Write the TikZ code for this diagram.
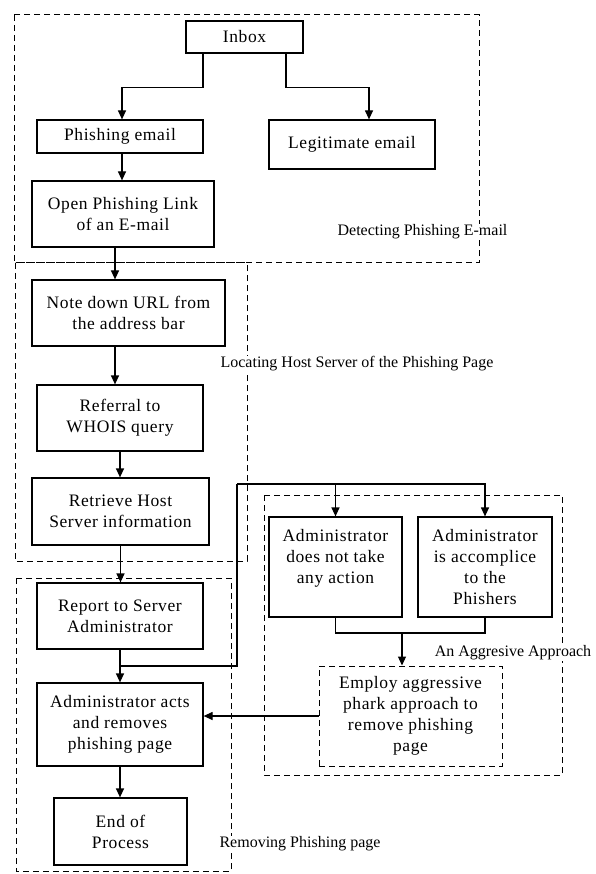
\documentclass[tikz,border=0pt]{standalone}
\usepackage{fontspec}
\setmainfont{Liberation Serif}
\newfontfamily\boxfont[LetterSpace=3.5]{Liberation Serif}
\usetikzlibrary{arrows.meta,calc}
\begin{document}
\begin{tikzpicture}[x=1pt,y=-1pt,
  box/.style={draw, line width=1.2pt, align=center, inner sep=0pt, font=\boxfont\fontsize{17.5}{21}\selectfont},
  dbox/.style={box, line width=1pt, dash pattern=on 6pt off 4pt},
  region/.style={draw, line width=1pt, dash pattern=on 6pt off 4pt},
  lbl/.style={fill=white, inner sep=1pt, font=\fontsize{16}{19}\selectfont},
  arr/.style={-{Triangle[length=9pt,width=8pt]}, line width=1.2pt},
  ln/.style={line width=1.2pt}]
\useasboundingbox (0,0) rectangle (596,874);
% regions
\draw[region] (14,15) rectangle (479,263);
\draw[region] (15,263) rectangle (247,561);
\draw[region] (16,578) rectangle (231,871);
\draw[region] (264,495) rectangle (562,775);
% nodes
\node[box, minimum width=117, minimum height=32] (inbox) at (244.5,37) {Inbox};
\node[box, minimum width=166, minimum height=33] (phish) at (120,136.5) {Phishing email};
\node[box, minimum width=166, minimum height=49] (legit) at (352,144.5) {Legitimate email};
\node[box, minimum width=182, minimum height=66] (open) at (123,214) {Open Phishing Link\\of an E-mail};
\node[box, minimum width=193, minimum height=66] (note) at (128.5,313) {Note down URL from\\the address bar};
\node[box, minimum width=166, minimum height=66] (whois) at (120,418) {Referral to\\WHOIS query};
\node[box, minimum width=177, minimum height=67] (retr) at (120.5,511.5) {Retrieve Host\\Server information};
\node[box, minimum width=166, minimum height=66] (report) at (120,616) {Report to Server\\Administrator};
\node[box, minimum width=166, minimum height=83] (acts) at (120,724.5) {Administrator acts\\and removes\\phishing page};
\node[box, minimum width=133, minimum height=67] (end) at (120.5,831.5) {End of\\Process};
\node[box, minimum width=133, minimum height=100] (none) at (335.5,567) {Administrator\\does not take\\any action\\\phantom{x}};
\node[box, minimum width=134, minimum height=100] (acc) at (485,567) {Administrator\\is accomplice\\to the\\Phishers};
\node[dbox, minimum width=183, minimum height=100] (employ) at (410.5,716) {Employ aggressive\\phark approach to\\remove phishing\\page};
% labels
\node[lbl] (l1) at (422.5,232) {Detecting Phishing E-mail};
\node[lbl] (l2) at (357,364) {Locating Host Server of the Phishing Page};
\node[lbl] (l3) at (513,653) {An Aggresive Approach};
\node[lbl] (l4) at (300,844) {Removing Phishing page};
% connectors
\draw[arr] ([xshift=-41.5pt]inbox.south) -- ++(0,34) -| ([xshift=2pt]phish.north);
\draw[arr] ([xshift=41.5pt]inbox.south) -- ++(0,34) -| ([xshift=17pt]legit.north);
\draw[arr] ([xshift=2pt]phish.south) -- ([xshift=-1pt]open.north);
\draw[arr] ([xshift=-8pt]open.south) -- ([xshift=-13.5pt]note.north);
\draw[arr] ([xshift=-13.5pt]note.south) -- ([xshift=-5pt]whois.north);
\draw[arr] (whois.south) -- (whois.south |- retr.north);
\draw[arr] (retr.south) -- (retr.south |- report.north);
\draw[arr] (report.south) -- (acts.north);
\draw[arr] (acts.south) -- (acts.south |- end.north);
\coordinate (j) at ($(report.south)!0.5!(acts.north)$);
\coordinate (k) at (237,484);
\draw[ln] (j) -| (k);
\draw[arr] (k) -| (none.north);
\draw[arr] (k) -| (acc.north);
\coordinate (m) at (402,633);
\draw[ln] (none.south) -- (none.south |- m) -| (acc.south);
\draw[arr] (m) -- ([xshift=-8.5pt]employ.north);
\draw[arr] (employ.west) -- (acts.east |- employ.west);
\end{tikzpicture}
\end{document}
